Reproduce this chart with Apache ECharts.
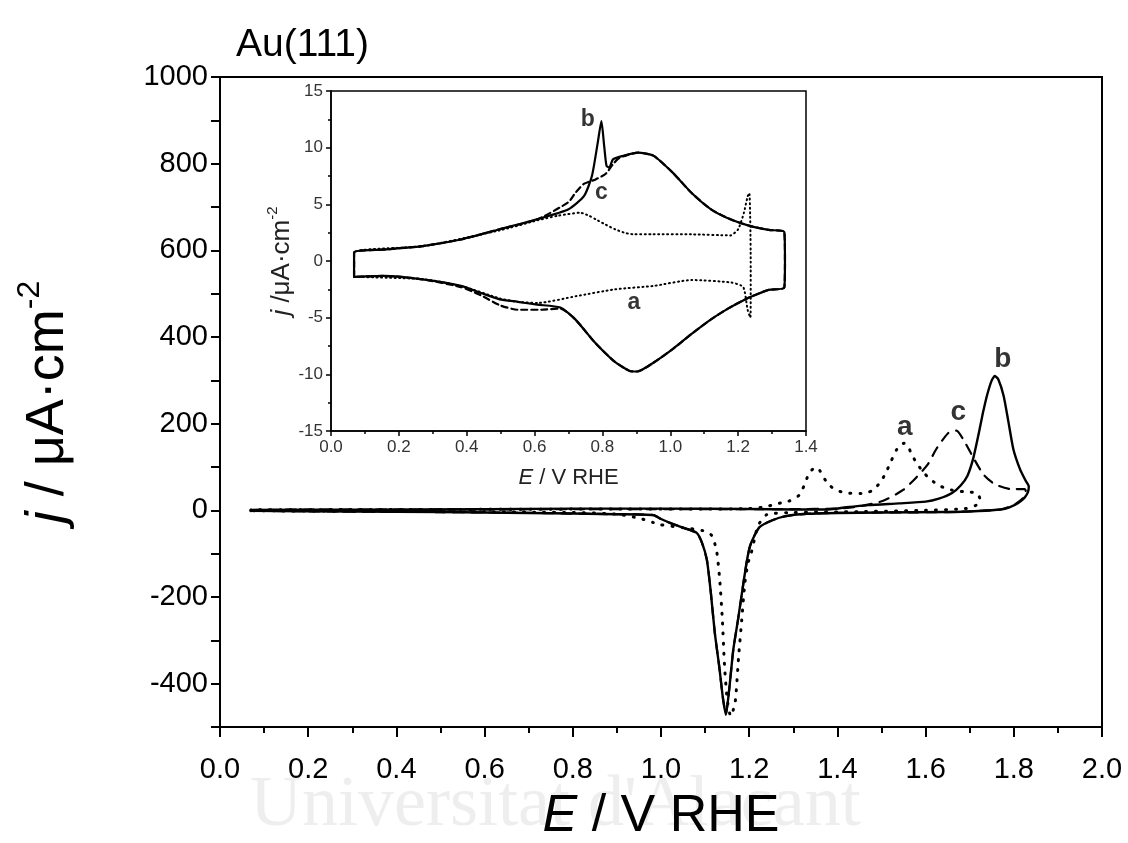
<!DOCTYPE html>
<html><head><meta charset="utf-8">
<script src="https://cdn.jsdelivr.net/npm/echarts@6/dist/echarts.min.js"></script>
<style>html,body{margin:0;padding:0;background:#fff}#c{width:1128px;height:843px}</style>
</head><body><div id="c"></div>
<script>
// ---------- Main panel: Au(111), E / V RHE vs j / uA cm-2 ----------
const mainB = [[0.07,-1],[0.07,1],[0.3,1.5],[0.6,2.5],[0.8,4],[1.0,4],[1.2,3],[1.3,2],[1.38,2],[1.42,7],[1.47,12],[1.54,16],[1.6,20],[1.63,27],[1.66,40],[1.68,58],[1.695,80],[1.708,120],[1.72,175],[1.73,225],[1.74,268],[1.75,300],[1.757,310],[1.765,302],[1.777,264],[1.788,203],[1.799,141],[1.814,95],[1.826,70],[1.834,55],[1.832,42],[1.825,30],[1.81,17],[1.79,7],[1.77,2],[1.72,-1.5],[1.65,-4],[1.5,-5],[1.4,-6],[1.33,-8],[1.28,-14],[1.25,-24],[1.224,-38],[1.212,-58],[1.202,-82],[1.195,-115],[1.187,-167],[1.175,-250],[1.164,-321],[1.155,-410],[1.147,-472],[1.14,-430],[1.132,-360],[1.122,-283],[1.113,-190],[1.104,-114],[1.093,-75],[1.081,-52],[1.05,-40],[1.028,-32],[1.0,-20],[0.983,-11],[0.9,-9],[0.7,-6],[0.5,-4],[0.3,-3],[0.07,-1]];
const mainA = [[0.07,-1],[0.07,1],[0.5,2],[0.9,3],[1.1,3],[1.2,4],[1.236,8],[1.262,15],[1.289,21],[1.305,28],[1.314,36],[1.325,58],[1.336,86],[1.35,99],[1.36,92],[1.367,78],[1.383,57],[1.398,46],[1.422,40],[1.454,39],[1.478,45],[1.497,64],[1.51,87],[1.522,114],[1.535,141],[1.551,155],[1.56,148],[1.568,130],[1.579,110],[1.595,88],[1.61,72],[1.633,56],[1.659,47],[1.686,43],[1.716,40],[1.723,27],[1.715,12],[1.69,4],[1.6,0],[1.45,-3],[1.3,-5],[1.24,-10],[1.22,-35],[1.213,-62],[1.205,-97],[1.197,-123],[1.19,-169],[1.183,-254],[1.176,-338],[1.168,-445],[1.158,-475],[1.15,-435],[1.144,-358],[1.139,-250],[1.133,-158],[1.126,-93],[1.115,-58],[1.095,-47],[1.05,-40],[0.997,-33],[0.982,-28],[0.95,-18],[0.9,-9],[0.8,-5],[0.5,-3],[0.07,-1]];
const mainC = [[0.07,-1],[0.07,1],[0.5,2],[1.0,3],[1.3,3],[1.4,4],[1.45,9],[1.504,22],[1.549,47],[1.579,76],[1.605,106],[1.624,141],[1.651,178],[1.67,184],[1.689,157],[1.708,122],[1.731,83],[1.757,60],[1.795,49],[1.825,49],[1.828,40],[1.82,27],[1.8,12],[1.77,2],[1.72,-1.5],[1.65,-4],[1.5,-5],[1.4,-6],[1.33,-8],[1.28,-14],[1.25,-24],[1.224,-38],[1.212,-58],[1.202,-82],[1.195,-115],[1.187,-167],[1.175,-250],[1.164,-321],[1.155,-410],[1.147,-470],[1.14,-430],[1.132,-360],[1.122,-283],[1.113,-190],[1.104,-114],[1.093,-75],[1.081,-52],[1.05,-40],[1.028,-32],[1.0,-20],[0.983,-11],[0.9,-9],[0.7,-6],[0.5,-4],[0.3,-3],[0.07,-1]];
const mainLabelNames = ['a','b','c'];
const mainLabelAt = [[1.553,191],[1.775,348],[1.674,226]];

// ---------- Inset panel ----------
const insetB = [[0.068,-1.4],[0.068,0.74],[0.15,1.0],[0.27,1.32],[0.383,1.9],[0.497,2.8],[0.61,3.7],[0.70,4.56],[0.746,5.74],[0.769,7.5],[0.786,10.4],[0.797,12.35],[0.805,10.2],[0.812,8.4],[0.82,8.24],[0.831,8.97],[0.859,9.26],[0.905,9.56],[0.95,9.3],[1.007,7.8],[1.063,6.0],[1.12,4.56],[1.177,3.68],[1.234,3.1],[1.29,2.74],[1.336,2.56],[1.338,0],[1.336,-2.35],[1.29,-2.55],[1.25,-3.0],[1.222,-3.37],[1.17,-4.2],[1.12,-5.15],[1.06,-6.5],[1.006,-7.8],[0.949,-9.0],[0.903,-9.75],[0.88,-9.7],[0.835,-8.86],[0.778,-7.2],[0.72,-5.15],[0.676,-4.11],[0.608,-3.85],[0.55,-3.6],[0.497,-3.38],[0.44,-2.8],[0.383,-2.2],[0.27,-1.62],[0.156,-1.32],[0.068,-1.4]];
const insetC = [[0.068,-1.4],[0.068,0.74],[0.15,1.0],[0.27,1.32],[0.383,1.9],[0.497,2.8],[0.61,3.7],[0.70,5.2],[0.72,6.0],[0.745,6.8],[0.78,7.2],[0.81,7.7],[0.83,8.5],[0.85,9.1],[0.905,9.56],[0.95,9.3],[1.007,7.8],[1.063,6.0],[1.12,4.56],[1.177,3.68],[1.234,3.1],[1.29,2.74],[1.336,2.56],[1.338,0],[1.336,-2.35],[1.29,-2.55],[1.25,-3.0],[1.222,-3.37],[1.17,-4.2],[1.12,-5.15],[1.06,-6.5],[1.006,-7.8],[0.949,-9.0],[0.903,-9.75],[0.88,-9.7],[0.835,-8.86],[0.778,-7.2],[0.72,-5.15],[0.676,-4.2],[0.62,-4.3],[0.55,-4.3],[0.497,-3.9],[0.44,-3.0],[0.383,-2.3],[0.27,-1.62],[0.156,-1.32],[0.068,-1.4]];
const insetA = [[0.068,-1.4],[0.068,0.74],[0.27,1.3],[0.497,2.7],[0.61,3.6],[0.67,4.0],[0.735,4.26],[0.76,4.0],[0.78,3.68],[0.81,3.2],[0.837,2.8],[0.87,2.45],[0.893,2.35],[0.95,2.35],[1.063,2.35],[1.177,2.26],[1.2,2.8],[1.217,4.26],[1.228,5.7],[1.233,6.0],[1.236,3],[1.237,0],[1.237,-3],[1.236,-5],[1.228,-4.3],[1.215,-2.3],[1.18,-1.9],[1.063,-1.68],[0.95,-2.2],[0.837,-2.5],[0.723,-3.1],[0.61,-3.7],[0.55,-3.6],[0.497,-3.3],[0.383,-2.2],[0.27,-1.6],[0.068,-1.4]];
const insetLabelNames = ['b','c','a'];
const insetLabelAt = [[0.757,12.5],[0.797,6.0],[0.893,-3.7]];

const FONT = 'Liberation Sans, Arial, sans-serif';
const chart = echarts.init(document.getElementById('c'), null, {renderer: 'canvas'});

function labelSeries(names, at, xi, yi, size) {
  return {
    type: 'scatter', xAxisIndex: xi, yAxisIndex: yi, symbolSize: 0, silent: true, z: 5,
    data: names.map((n, k) => ({name: n, value: at[k]})),
    label: {show: true, position: 'inside', formatter: p => p.name, color: '#000',
            fontSize: size, fontWeight: 'bold', fontFamily: FONT}
  };
}
function lineSeries(data, xi, yi, dash, w) {
  return {
    type: 'line', xAxisIndex: xi, yAxisIndex: yi, data: data, showSymbol: false, symbol: 'none',
    smooth: 0.2, silent: true, z: 3,
    lineStyle: {color: '#000', width: w, type: dash, cap: 'round', join: 'round'}
  };
}

const option = {
  animation: false,
  backgroundColor: '#fff',
  title: {text: 'Au(111)', left: 231, top: 21,
          textStyle: {fontSize: 39, fontWeight: 'normal', color: '#000', fontFamily: FONT}},
  graphic: [{
    type: 'text', left: 250, top: 770, z: -10, silent: true,
    style: {text: "Universitat d'Alacant", fontSize: 72, fontFamily: 'Liberation Serif, DejaVu Serif, serif', fill: '#eeeeee'}
  }],
  grid: [
    {left: 220, right: 26, top: 77, bottom: 116, outerBoundsMode: 'none', containLabel: false, show: true, borderColor: '#000', borderWidth: 2, backgroundColor: 'transparent'},
    {left: 331, right: 322, top: 91, bottom: 412, outerBoundsMode: 'none', containLabel: false, show: true, borderColor: '#000', borderWidth: 1.5, backgroundColor: '#fff'}
  ],
  xAxis: [
    {gridIndex: 0, type: 'value', min: 0, max: 2, interval: 0.2,
     name: '{i|E} / V RHE', nameLocation: 'middle', nameGap: 64,
     nameTextStyle: {fontSize: 52, color: '#000', fontFamily: FONT, rich: {i: {fontSize: 52, fontStyle: 'italic', fontFamily: FONT, color: '#000'}}},
     axisLine: {show: true, onZero: false, lineStyle: {color: '#000', width: 2}},
     axisTick: {show: true, inside: false, length: 10, lineStyle: {color: '#000', width: 2}},
     minorTick: {show: true, splitNumber: 2, length: 6, lineStyle: {color: '#000', width: 2}},
     splitLine: {show: false},
     axisLabel: {fontSize: 29, color: '#000', fontFamily: FONT, margin: 28, formatter: v => v.toFixed(1)}},
    {gridIndex: 1, type: 'value', min: 0, max: 1.4, interval: 0.2,
     name: '{i|E} / V RHE', nameLocation: 'middle', nameGap: 36,
     nameTextStyle: {fontSize: 22, color: '#222', fontFamily: FONT, rich: {i: {fontSize: 22, fontStyle: 'italic', fontFamily: FONT, color: '#222'}}},
     axisLine: {show: true, onZero: false, lineStyle: {color: '#000', width: 1.5}},
     axisTick: {show: true, inside: false, length: 5, lineStyle: {color: '#000', width: 1.5}},
     minorTick: {show: true, splitNumber: 2, length: 3, lineStyle: {color: '#000', width: 1.5}},
     splitLine: {show: false},
     axisLabel: {fontSize: 17, color: '#333', fontFamily: FONT, margin: 8, formatter: v => v.toFixed(1)}}
  ],
  yAxis: [
    {gridIndex: 0, type: 'value', min: -500, max: 1000, interval: 100,
     name: '{i|j} / μA·cm{s|-2}', nameLocation: 'middle', nameGap: 138, nameRotate: 90,
     nameTextStyle: {fontSize: 54, color: '#000', fontFamily: FONT,
       rich: {i: {fontSize: 54, fontStyle: 'italic', fontFamily: FONT, color: '#000', lineHeight: 68},
              s: {fontSize: 32, fontFamily: FONT, color: '#000', verticalAlign: 'top', lineHeight: 32}}},
     axisLine: {show: true, onZero: false, lineStyle: {color: '#000', width: 2}},
     axisTick: {show: true, inside: false, length: 9, lineStyle: {color: '#000', width: 2}},
     splitLine: {show: false},
     axisLabel: {fontSize: 29, color: '#000', fontFamily: FONT, margin: 12,
                 formatter: v => (Math.round(v) % 200 === 0 ? String(Math.round(v)) : '')}},
    {gridIndex: 1, type: 'value', min: -15, max: 15, interval: 5,
     name: '{i|j} /μA·cm{s|-2}', nameLocation: 'middle', nameGap: 30, nameRotate: 90,
     nameTextStyle: {fontSize: 26, color: '#222', fontFamily: FONT,
       rich: {i: {fontSize: 26, fontStyle: 'italic', fontFamily: FONT, color: '#222', lineHeight: 32},
              s: {fontSize: 15, fontFamily: FONT, color: '#222', verticalAlign: 'top', lineHeight: 15}}},
     axisLine: {show: true, onZero: false, lineStyle: {color: '#000', width: 1.5}},
     axisTick: {show: true, inside: false, length: 5, lineStyle: {color: '#000', width: 1.5}},
     minorTick: {show: true, splitNumber: 2, length: 3, lineStyle: {color: '#000', width: 1.5}},
     splitLine: {show: false},
     axisLabel: {fontSize: 17, color: '#333', fontFamily: FONT, margin: 8}}
  ],
  series: [
    lineSeries(mainB, 0, 0, 'solid', 2.4),
    lineSeries(mainC, 0, 0, [10, 8], 2.2),
    lineSeries(mainA, 0, 0, [1, 9], 3),
    labelSeries(mainLabelNames, mainLabelAt, 0, 0, 28),
    lineSeries(insetB, 1, 1, 'solid', 2.2),
    lineSeries(insetC, 1, 1, [6, 4], 2.2),
    lineSeries(insetA, 1, 1, [1, 3.5], 2),
    labelSeries(insetLabelNames, insetLabelAt, 1, 1, 23)
  ]
};
chart.setOption(option);
</script>
</body></html>
